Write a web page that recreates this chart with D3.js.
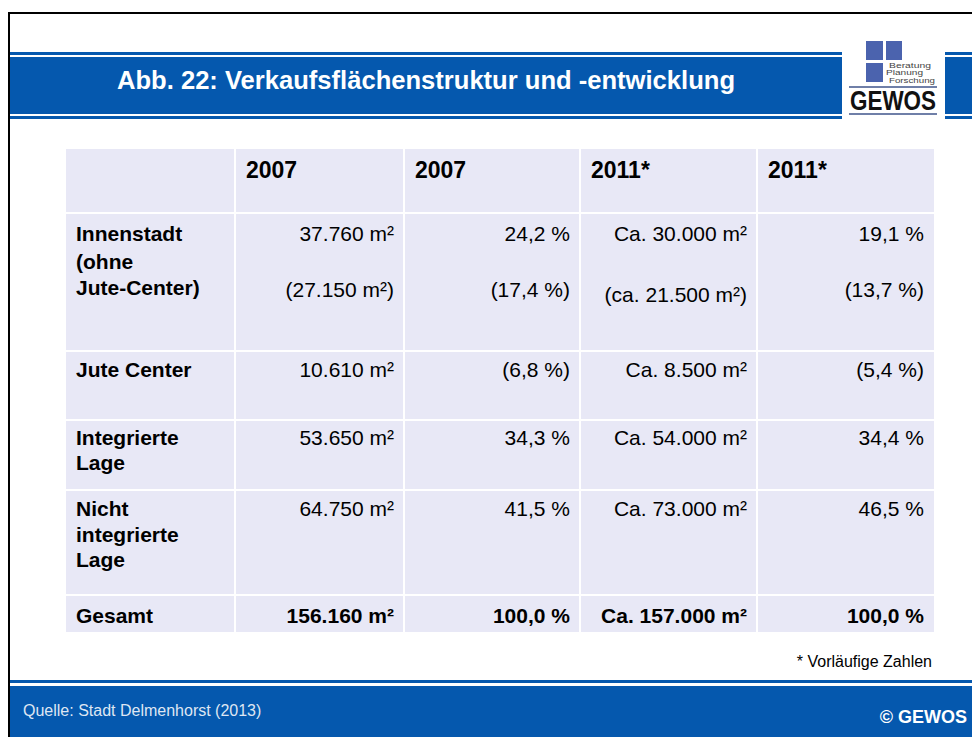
<!DOCTYPE html>
<html>
<head>
<meta charset="utf-8">
<script src="https://cdn.jsdelivr.net/npm/d3@7"></script>
<style>
  body { margin: 0; background: #fff; }
  svg { display: block; font-family: "Liberation Sans", Arial, sans-serif; }
</style>
</head>
<body>
<svg id="chart"></svg>
<script>
// table content
const columns = ["", "2007", "2007", "2011*", "2011*"];
const rowLabels = [
    ["Innenstadt", "(ohne", "Jute-Center)"],
    ["Jute Center"],
    ["Integrierte", "Lage"],
    ["Nicht", "integrierte", "Lage"],
    ["Gesamt"]
];
const area2007 = ["37.760 m²", "10.610 m²", "53.650 m²", "64.750 m²", "156.160 m²"];
const share2007 = ["24,2 %", "(6,8 %)", "34,3 %", "41,5 %", "100,0 %"];
const area2011 = ["Ca. 30.000 m²", "Ca. 8.500 m²", "Ca. 54.000 m²", "Ca. 73.000 m²", "Ca. 157.000 m²"];
const share2011 = ["19,1 %", "(5,4 %)", "34,4 %", "46,5 %", "100,0 %"];
// Innenstadt without Jute-Center (second line in first row)
const innerOhneJute = ["(27.150 m²)", "(17,4 %)", "(ca. 21.500 m²)", "(13,7 %)"];

const title = "Abb. 22: Verkaufsflächenstruktur und -entwicklung";
const source = "Quelle: Stadt Delmenhorst (2013)";
const note = "* Vorläufige Zahlen";
const logoLines = ["Beratung", "Planung", "Forschung"];

const width = 972, height = 737;
const blue = "#0558ae";
const cellFill = "#e8e8f6";

const svg = d3.select("#chart")
    .attr("width", width)
    .attr("height", height);

// frame
svg.append("rect").attr("x", 8).attr("y", 12).attr("width", width - 8).attr("height", 2).attr("fill", "#000");
svg.append("rect").attr("x", 8).attr("y", 12).attr("width", 2).attr("height", height - 12).attr("fill", "#000");

// title band (split around the logo)
[[10, 842], [945, width]].forEach(seg => {
    svg.append("rect").attr("x", seg[0]).attr("y", 52).attr("width", seg[1] - seg[0]).attr("height", 3).attr("fill", blue);
    svg.append("rect").attr("x", seg[0]).attr("y", 57).attr("width", seg[1] - seg[0]).attr("height", 57).attr("fill", blue);
    svg.append("rect").attr("x", seg[0]).attr("y", 116).attr("width", seg[1] - seg[0]).attr("height", 3).attr("fill", blue);
});
svg.append("text")
    .attr("x", 117).attr("y", 89)
    .attr("fill", "#fff")
    .style("font-size", "25.5px").style("font-weight", "bold")
    .attr("textLength", 618).attr("lengthAdjust", "spacingAndGlyphs")
    .text(title);

// logo
const logo = svg.append("g");
const sq = "#4b63ae";
logo.append("rect").attr("x", 866).attr("y", 41).attr("width", 17).attr("height", 19).attr("fill", sq);
logo.append("rect").attr("x", 886).attr("y", 41).attr("width", 16).attr("height", 19).attr("fill", sq);
logo.append("rect").attr("x", 866).attr("y", 63).attr("width", 17).attr("height", 19).attr("fill", sq);
const logoPos = [[889, 67.5, 42], [886, 75, 37], [889, 82.5, 46]];
logo.selectAll("text.sub")
    .data(logoLines)
    .join("text")
    .attr("class", "sub")
    .attr("x", (d, i) => logoPos[i][0])
    .attr("y", (d, i) => logoPos[i][1])
    .attr("textLength", (d, i) => logoPos[i][2])
    .attr("lengthAdjust", "spacingAndGlyphs")
    .style("font-size", "6.5px").attr("fill", "#444")
    .text(d => d);
logo.append("rect").attr("x", 849).attr("y", 86).attr("width", 88).attr("height", 2).attr("fill", "#6f7fa8");
logo.append("text").attr("x", 850).attr("y", 110)
    .style("font-size", "27px").style("font-weight", "bold").attr("fill", "#111")
    .attr("textLength", 86).attr("lengthAdjust", "spacingAndGlyphs")
    .text("GEWOS");
logo.append("rect").attr("x", 849).attr("y", 113).attr("width", 88).attr("height", 2).attr("fill", "#6f7fa8");

// table layout
const colEdges = [66, 235, 404, 580, 757, 934];
const rowEdges = [149, 213, 351, 420, 490, 595, 632];
const pad = 10;

const colX = d3.scaleOrdinal().domain(d3.range(columns.length)).range(colEdges.slice(0, -1));
const colW = i => colEdges[i + 1] - colEdges[i];
const rowY = d3.scaleOrdinal().domain(d3.range(rowLabels.length + 1)).range(rowEdges.slice(0, -1));
const rowH = i => rowEdges[i + 1] - rowEdges[i];

const cells = [];
for (let r = 0; r <= rowLabels.length; r++) {
    for (let c = 0; c < columns.length; c++) cells.push({ r, c });
}
svg.append("g").selectAll("rect")
    .data(cells)
    .join("rect")
    .attr("x", d => colX(d.c) + (d.c ? 1 : 0))
    .attr("y", d => rowY(d.r) + (d.r ? 1 : 0))
    .attr("width", d => colW(d.c) - (d.c ? 1 : 0) - (d.c < columns.length - 1 ? 1 : 0))
    .attr("height", d => rowH(d.r) - (d.r ? 1 : 0) - (d.r < rowLabels.length ? 1 : 0))
    .attr("fill", cellFill);

// header
svg.append("g").selectAll("text")
    .data(columns)
    .join("text")
    .attr("x", (d, i) => colX(i) + 11)
    .attr("y", rowY(0) + 29)
    .style("font-size", "23px").style("font-weight", "bold")
    .attr("fill", "#000")
    .text(d => d);

// row labels
const labelGap = [[28, 54], [], [25], [26, 51]];
const rowBase = [28, 26, 25, 26, 28];
rowLabels.forEach((lines, i) => {
    const top = rowY(i + 1);
    svg.append("g").selectAll("text")
        .data(lines)
        .join("text")
        .attr("x", colX(0) + 10)
        .attr("y", (d, j) => top + rowBase[i] + (j ? labelGap[i][j - 1] : 0))
        .style("font-size", "21px").style("font-weight", "bold")
        .attr("fill", "#000")
        .text(d => d);
});

// values
const valueCols = [area2007, share2007, area2011, share2011];
valueCols.forEach((vals, k) => {
    const c = k + 1;
    svg.append("g").selectAll("text")
        .data(vals)
        .join("text")
        .attr("x", colX(c) + colW(c) - pad)
        .attr("y", (d, i) => rowY(i + 1) + rowBase[i])
        .attr("text-anchor", "end")
        .style("font-size", "21px")
        .style("font-weight", (d, i) => i === vals.length - 1 ? "bold" : "normal")
        .attr("fill", "#000")
        .text(d => d);
});
svg.append("g").selectAll("text")
    .data(innerOhneJute)
    .join("text")
    .attr("x", (d, k) => colX(k + 1) + colW(k + 1) - pad)
    .attr("y", (d, k) => rowY(1) + (k === 2 ? 89 : 84))
    .attr("text-anchor", "end")
    .style("font-size", "21px")
    .attr("fill", "#000")
    .text(d => d);

// note
svg.append("text")
    .attr("x", 932).attr("y", 667)
    .attr("text-anchor", "end")
    .style("font-size", "16px").attr("fill", "#000")
    .text(note);

// footer band
svg.append("rect").attr("x", 10).attr("y", 680).attr("width", width - 10).attr("height", 3).attr("fill", blue);
svg.append("rect").attr("x", 10).attr("y", 686).attr("width", width - 10).attr("height", height - 686).attr("fill", blue);
svg.append("text")
    .attr("x", 23).attr("y", 716)
    .style("font-size", "16px").attr("fill", "#dfe6f3")
    .text(source);
svg.append("text")
    .attr("x", 967).attr("y", 723)
    .attr("text-anchor", "end")
    .style("font-size", "18px").style("font-weight", "bold").attr("fill", "#fff")
    .text("© GEWOS");
</script>
</body>
</html>
